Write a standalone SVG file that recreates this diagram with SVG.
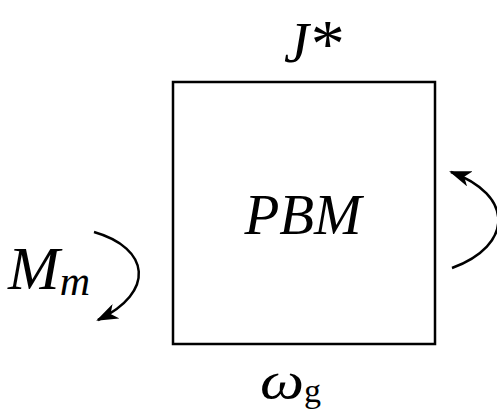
<svg xmlns="http://www.w3.org/2000/svg" width="497" height="416" viewBox="0 0 497 416">
<style>
text{font-family:'Liberation Serif','Times New Roman',serif;font-style:italic;fill:#000}
text.up{font-style:normal}
.c{fill:none;stroke:#000;stroke-width:2.5}
</style>
<defs>
<marker id="ah" viewBox="0 0 22 16" refX="20" refY="8" markerWidth="22" markerHeight="16" markerUnits="userSpaceOnUse" orient="auto">
<path d="M0 0 L22 8 L0 16 L6 8 Z" fill="#000"/>
</marker>
</defs>
<rect width="497" height="416" fill="#fff"/>
<g id="pbm">
<rect x="173" y="82" width="262" height="262" fill="none" stroke="#000" stroke-width="2.5"/>
<text x="303" y="234" font-size="57" text-anchor="middle">PBM</text>
</g>
<g id="jstar">
<text x="284" y="62" font-size="56">J<tspan font-style="normal" font-size="68" dx="2" dy="4">*</tspan></text>
</g>
<g id="omega">
<text transform="translate(260 398) scale(1.2 1)" x="0" y="0" font-size="52">ω</text>
<text class="up" x="304" y="402" font-size="34">g</text>
</g>
<g id="mm">
<text x="8" y="289" font-size="62">M<tspan font-size="42" dy="6">m</tspan></text>
</g>
<g id="connectors">
<path class="c" d="M94 232 C150 248 156 292 98 320" marker-end="url(#ah)"/>
<path class="c" d="M452 268 C514 245 514 195 451 172" marker-end="url(#ah)"/>
</g>
</svg>
